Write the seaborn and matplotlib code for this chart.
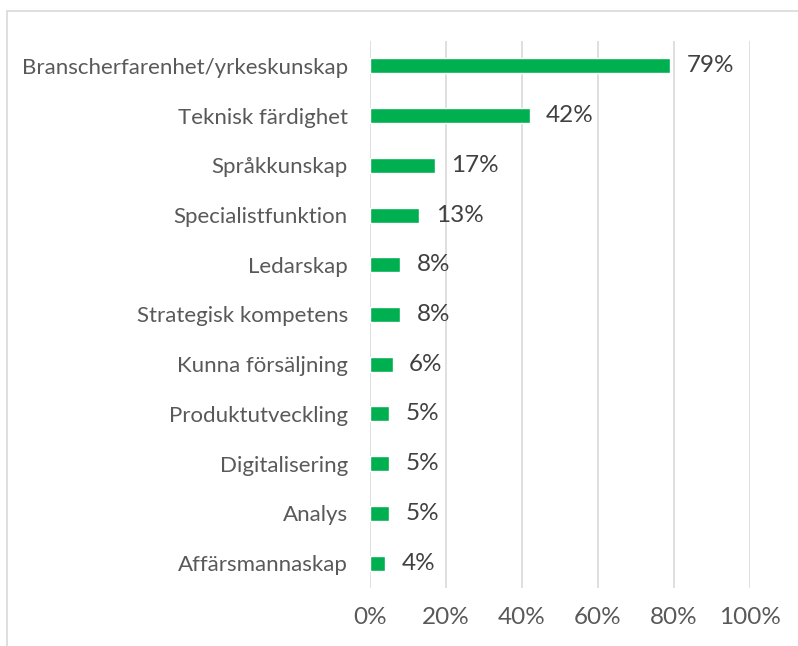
import pandas as pd
import seaborn as sns
import matplotlib.pyplot as plt
from matplotlib.patches import Rectangle

# data
categories = ["Branscherfarenhet/yrkeskunskap", "Teknisk färdighet", "Språkkunskap",
              "Specialistfunktion", "Ledarskap", "Strategisk kompetens",
              "Kunna försäljning", "Produktutveckling", "Digitalisering",
              "Analys", "Affärsmannaskap"]
values = [79, 42, 17, 13, 8, 8, 6, 5, 5, 5, 4]
x_ticks = [0, 20, 40, 60, 80, 100]

df = pd.DataFrame({"Kompetens": categories, "Andel": values})

sns.set_style("white")
plt.rcParams["font.family"] = ["Lato", "DejaVu Sans"]

W, H = 798, 646
fig = plt.figure(figsize=(W / 100, H / 100), dpi=100)
ax = fig.add_axes([370 / W, 1 - 588 / H, (750 - 370) / W, (588 - 41) / H])

sns.barplot(data=df, x="Andel", y="Kompetens", orient="h", color="#00B050",
            width=0.3, saturation=1, ax=ax)

ax.set_xlim(0, 100)
ax.set_xticks(x_ticks)
ax.set_xticklabels([f"{t}%" for t in x_ticks], fontsize=17.5, color="#595959")
ax.tick_params(axis="x", length=0, pad=14)
ax.tick_params(axis="y", length=0, pad=16, labelsize=16, labelcolor="#595959")
ax.xaxis.grid(True, color="#D9D9D9", linewidth=1.2)
ax.set_axisbelow(True)
for s in ax.spines.values():
    s.set_visible(False)
ax.set_xlabel("")
ax.set_ylabel("")

for i, v in enumerate(values):
    ax.text(v + 4.3, i, f"{v}%", va="center", ha="left", fontsize=17.5, color="#404040")

# chart border
fig.patches.append(Rectangle((7 / W, -0.01), 1.0, 1 - 11 / H + 0.01, transform=fig.transFigure,
                             fill=False, edgecolor="#D9D9D9", linewidth=1.2))

fig.savefig("out.png", dpi=100)
